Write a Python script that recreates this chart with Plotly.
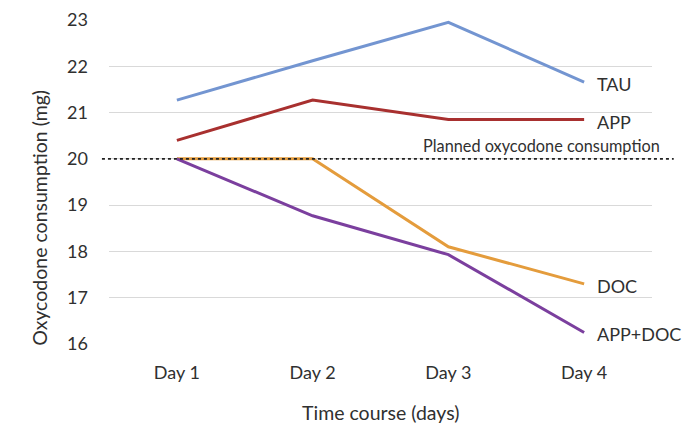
import plotly.graph_objects as go

DAYS = ["Day 1", "Day 2", "Day 3", "Day 4"]
TAU = [21.27, 22.12, 22.95, 21.66]
APP = [20.4, 21.27, 20.85, 20.85]
DOC = [20.0, 20.0, 18.1, 17.3]
APP_DOC = [20.0, 18.77, 17.93, 16.25]
PLANNED = 20
Y_TICKS = [16, 17, 18, 19, 20, 21, 22, 23]

SERIES = [
    ("TAU", TAU, "#7395D1"),
    ("APP", APP, "#A8302F"),
    ("DOC", DOC, "#E49C3C"),
    ("APP+DOC", APP_DOC, "#7B3F9E"),
]

FONT = "Lato, 'Open Sans', sans-serif"
TEXT = "#303030"

fig = go.Figure()
for name, values, color in SERIES:
    fig.add_trace(go.Scatter(
        x=DAYS, y=values, mode="lines", name=name,
        line=dict(color=color, width=3),
    ))
    fig.add_annotation(
        x=DAYS[-1], y=values[-1], text=name, showarrow=False,
        xanchor="left", xshift=11, yshift=-2,
        font=dict(family=FONT, size=18, color=TEXT),
    )

# planned consumption reference line
fig.add_shape(
    type="line", xref="paper", yref="y", x0=-0.013, x1=1.04,
    y0=PLANNED, y1=PLANNED,
    line=dict(color="#222222", width=1.6, dash="dot"),
)
fig.add_annotation(
    xref="paper", x=0.797, y=PLANNED, yshift=13, text="Planned oxycodone consumption",
    showarrow=False, xanchor="center",
    font=dict(family=FONT, size=16.3, color=TEXT),
)

# axis titles as annotations so they sit where the original has them
fig.add_annotation(
    xref="paper", yref="paper", x=-0.127, y=0.39, textangle=-90,
    text="Oxycodone consumption (mg)", showarrow=False,
    xanchor="center", yanchor="middle",
    font=dict(family=FONT, size=19.5, color=TEXT),
)
fig.add_annotation(
    xref="paper", yref="paper", x=0.5, y=-0.21,
    text="Time course (days)", showarrow=False,
    xanchor="center", yanchor="middle",
    font=dict(family=FONT, size=19.5, color=TEXT),
)

fig.update_layout(
    width=683, height=417,
    margin=dict(l=101, r=39, t=12, b=81),
    plot_bgcolor="#FFFFFF", paper_bgcolor="#FFFFFF",
    showlegend=False,
    font=dict(family=FONT, color=TEXT),
    xaxis=dict(
        type="category", range=[-0.5, 3.5], showgrid=False, showline=False,
        ticks="", ticklabelstandoff=16, tickfont=dict(size=18, color=TEXT),
        automargin=False,
    ),
    yaxis=dict(
        range=[16, 23], tickvals=Y_TICKS, showgrid=True, gridcolor="#D9D9D9",
        gridwidth=1.2, zeroline=False, showline=False, ticks="",
        ticklabelstandoff=20, automargin=False,
        tickfont=dict(size=18, color=TEXT),
    ),
)

fig.write_html("out.html")
